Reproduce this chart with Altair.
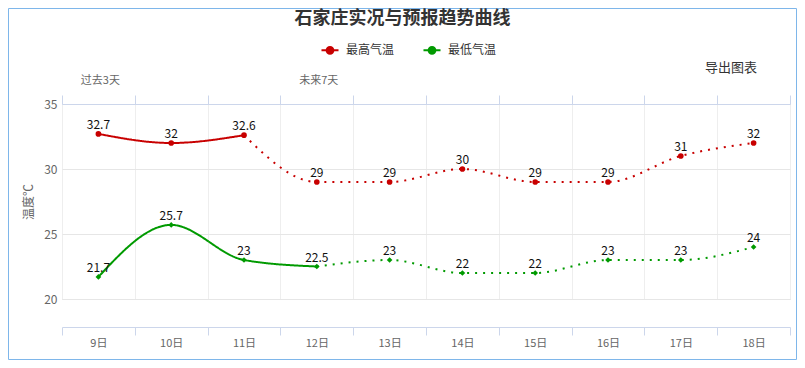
import altair as alt
import pandas as pd

days = ["9日", "10日", "11日", "12日", "13日", "14日", "15日", "16日", "17日", "18日"]
high = [32.7, 32, 32.6, 29, 29, 30, 29, 29, 31, 32]
low = [21.7, 25.7, 23, 22.5, 23, 22, 22, 23, 23, 24]
high_labels = ["32.7", "32", "32.6", "29", "29", "30", "29", "29", "31", "32"]
low_labels = ["21.7", "25.7", "23", "22.5", "23", "22", "22", "23", "23", "24"]
high_last_obs = "11日"
low_last_obs = "12日"
series_names = ["最高气温", "最低气温"]
series_colors = ["#c80000", "#009a00"]
series_shapes = ["circle", "diamond"]
seg_names = ["实况", "预报"]
y_ticks = [20, 25, 30, 35]
period_texts = ["过去3天", "未来7天"]
period_days = ["9日", "12日"]
title_text = "石家庄实况与预报趋势曲线"
export_text = "导出图表"

FONT = "Noto Sans CJK SC"
W, H = 728, 195
PAD = {"left": 54, "top": 96, "right": 7, "bottom": 61}

pts = []
for name, vals, labs in [(series_names[0], high, high_labels), (series_names[1], low, low_labels)]:
    for d, v, l in zip(days, vals, labs):
        pts.append({"day": d, "val": v, "series": name, "label": l})
pts = pd.DataFrame(pts)

segs = []
for name, vals, last in [(series_names[0], high, high_last_obs), (series_names[1], low, low_last_obs)]:
    k = days.index(last)
    for i, (d, v) in enumerate(zip(days, vals)):
        if i <= k:
            segs.append({"day": d, "val": v, "series": name, "seg": seg_names[0], "order": i})
        if i >= k:
            segs.append({"day": d, "val": v, "series": name, "seg": seg_names[1], "order": i})
segs = pd.DataFrame(segs)

xscale = alt.Scale(type="band", domain=days, paddingInner=0, paddingOuter=0)
yscale = alt.Scale(domain=[20, 35], nice=False, zero=False)

y_enc = alt.Y("val:Q", scale=yscale, axis=alt.Axis(
    values=y_ticks, title="温度℃", titleColor="#666", titleFontSize=12, titleFontWeight="normal",
    titleFont=FONT, titlePadding=8, labelColor="#666", labelFontSize=12, labelPadding=5,
    domain=False, ticks=False, grid=True, gridColor="#e6e6e6"))

SYMBOL = "M-1,0L1,0M-0.4,0A0.4,0.4,0,1,1,0.4,0A0.4,0.4,0,1,1,-0.4,0Z"
legend_common = dict(
    orient="none", legendX=258, legendY=-64, direction="horizontal", title=None,
    symbolType=SYMBOL, symbolSize=290, symbolStrokeWidth=2, labelFontSize=12, labelFont=FONT,
    columnPadding=24, labelOffset=6)
legend_line = alt.Legend(labelColor="#333", **legend_common)
legend_dot = alt.Legend(labelColor="#333", labelOpacity=0, symbolStrokeColor="transparent", **legend_common)

lines = alt.Chart(segs).mark_line(interpolate="monotone", strokeWidth=2).encode(
    x=alt.X("day:N", sort=days, scale=xscale, axis=alt.Axis(
        orient="top", labels=False, title=None, domainColor="#ccd6eb", tickColor="#ccd6eb",
        tickSize=9, tickBand="extent", grid=True, gridColor="#eeeeee")),
    y=y_enc,
    color=alt.Color("series:N", scale=alt.Scale(domain=series_names, range=series_colors), legend=legend_line),
    strokeDash=alt.StrokeDash("seg:N", scale=alt.Scale(domain=seg_names, range=[[1, 0], [2, 6]]), legend=None),
    detail="series:N",
    order="order:Q",
)

points = alt.Chart(pts).mark_point(filled=True, size=32, opacity=1).encode(
    x=alt.X("day:N", sort=days, axis=alt.Axis(
        orient="bottom", offset=28, title=None, domainColor="#ccd6eb", tickColor="#ccd6eb",
        tickSize=8, tickBand="extent", labelColor="#666", labelFontSize=11, labelPadding=2,
        labelFont=FONT, grid=False, labelAngle=0)),
    y=alt.Y("val:Q"),
    fill=alt.Fill("series:N", scale=alt.Scale(domain=series_names, range=series_colors), legend=legend_dot),
    shape=alt.Shape("series:N", scale=alt.Scale(domain=series_names, range=series_shapes), legend=None),
)

labels = alt.Chart(pts).mark_text(
    dy=-5, baseline="alphabetic", fontSize=12, color="#111", font=FONT).encode(
    x=alt.X("day:N", sort=days, axis=None),
    y=alt.Y("val:Q"),
    text="label:N",
)

period_df = pd.DataFrame({"day": period_days, "text": period_texts})
periods = alt.Chart(period_df).mark_text(
    fontSize=11, color="#666", font=FONT, baseline="middle", dx=2).encode(
    x=alt.X("day:N", sort=days, axis=None),
    y=alt.value(-23),
    text="text:N",
)

title = alt.Chart(alt.Data(values=[{"t": title_text}])).mark_text(
    fontSize=18, fontWeight="bold", color="#333", font=FONT, baseline="middle", align="center").encode(
    x=alt.value(340.5), y=alt.value(-85), text="t:N")

export = alt.Chart(alt.Data(values=[{"t": export_text}])).mark_text(
    fontSize=13, color="#333", font=FONT, baseline="middle", align="center").encode(
    x=alt.value(669), y=alt.value(-36), text="t:N")

border = alt.Chart(alt.Data(values=[{"a": 1}])).mark_rect(
    fill=None, stroke="#7eb6ea", strokeWidth=1).encode(
    x=alt.value(-PAD["left"] + 0.5), x2=alt.value(W + PAD["right"] - 0.5),
    y=alt.value(-PAD["top"] + 0.5), y2=alt.value(H + PAD["bottom"] - 0.5))

chart = alt.layer(border, lines, points, labels, periods, title, export).resolve_axis(
    x="independent").resolve_legend(color="independent", fill="independent").properties(
    width=W, height=H, autosize=alt.AutoSizeParams(type="none"), padding=PAD,
    background="white").configure_view(stroke=None).configure(font=FONT)

chart.save("out.html", embed_options={"renderer": "svg", "actions": False})
